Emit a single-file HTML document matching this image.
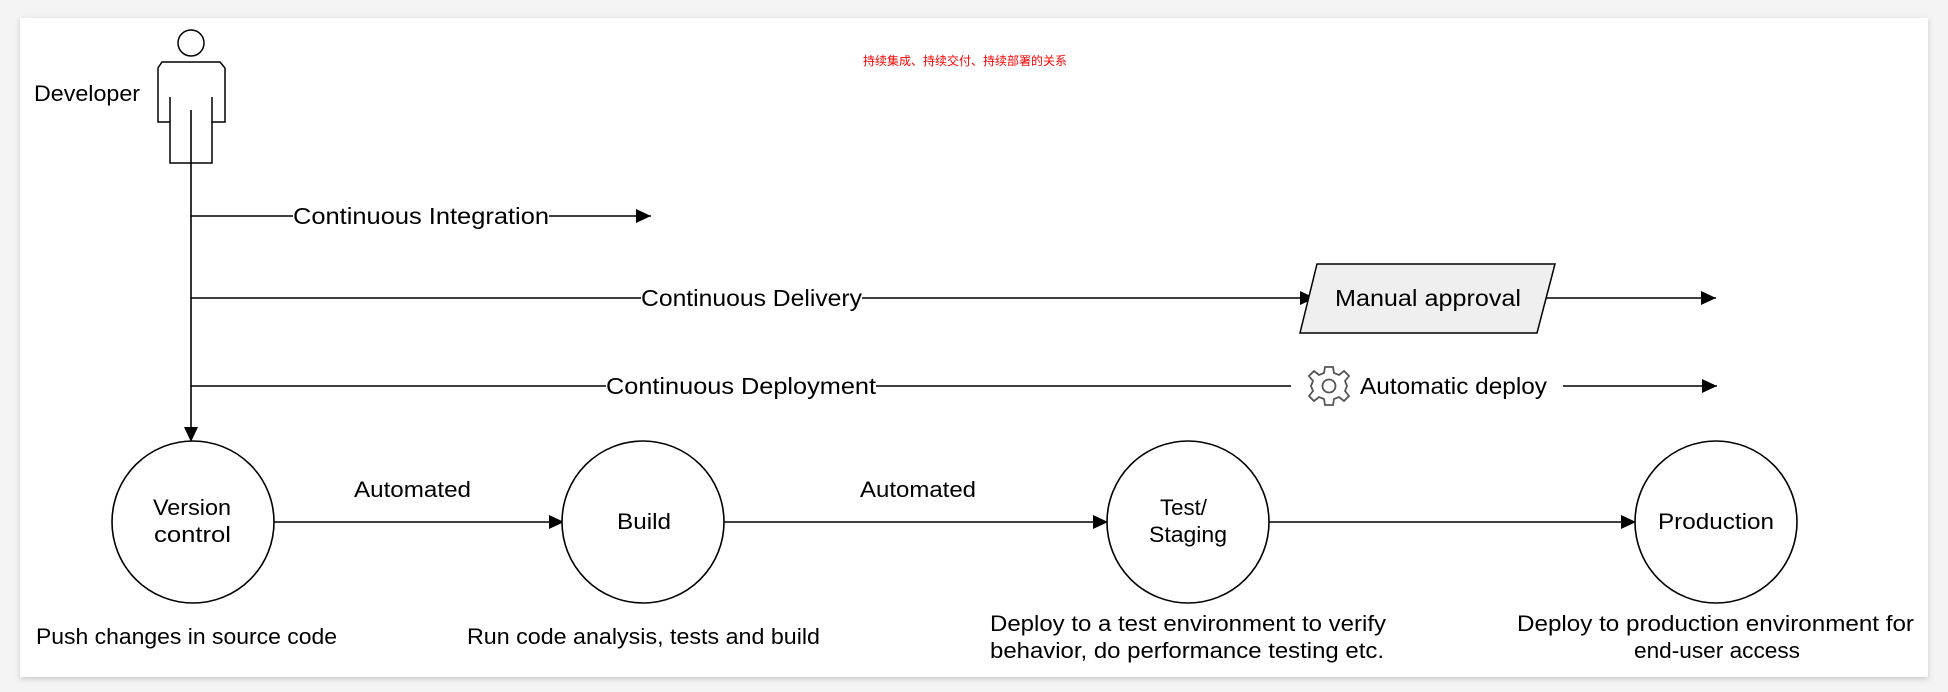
<!DOCTYPE html>
<html><head><meta charset="utf-8"><style>
html,body{margin:0;padding:0;background:#fff;}
svg{display:block;}
text{font-family:"Liberation Sans","Noto Sans CJK SC",sans-serif;fill:#000;}
</style></head><body>
<svg width="1948" height="692" viewBox="0 0 1948 692" xmlns="http://www.w3.org/2000/svg">
<defs>
<marker id="a" markerWidth="16" markerHeight="14" refX="15" refY="7" orient="auto" markerUnits="userSpaceOnUse">
<path d="M0,0 L15,7 L0,14 Z" fill="#000"/></marker>
<filter id="sh" x="-2%" y="-5%" width="104%" height="110%"><feDropShadow dx="0" dy="2" stdDeviation="3" flood-color="#000" flood-opacity="0.18"/></filter>
</defs>
<rect x="0" y="0" width="1948" height="692" fill="#f4f4f4"/>
<rect x="20" y="18" width="1908" height="659" fill="#fff" filter="url(#sh)"/>
<text x="965" y="65" font-size="12" text-anchor="middle" style="fill:#f00">持续集成、持续交付、持续部署的关系</text>
<g fill="none" stroke="#000" stroke-width="1.5">
<circle cx="191" cy="43" r="13"/>
<path d="M162,62 L220,62 L225,68 L225,122 L212,122 L212,163 L170,163 L170,122 L158,122 L158,68 Z"/>
<line x1="170" y1="97" x2="170" y2="122"/><line x1="212" y1="97" x2="212" y2="122"/>
</g>
<text x="34" y="101" font-size="22" textLength="106" lengthAdjust="spacingAndGlyphs">Developer</text>
<g stroke="#000" stroke-width="1.6" fill="none">
<line x1="191" y1="110" x2="191" y2="442" marker-end="url(#a)"/>
<line x1="191" y1="216" x2="293" y2="216"/><line x1="549" y1="216" x2="651" y2="216" marker-end="url(#a)"/>
<line x1="191" y1="298" x2="641" y2="298"/><line x1="862" y1="298" x2="1315" y2="298" marker-end="url(#a)"/>
<line x1="1544" y1="298" x2="1716" y2="298" marker-end="url(#a)"/>
<line x1="191" y1="386" x2="606" y2="386"/><line x1="876" y1="386" x2="1291" y2="386"/>
<line x1="1563" y1="386" x2="1717" y2="386" marker-end="url(#a)"/>
<line x1="274" y1="522" x2="564" y2="522" marker-end="url(#a)"/>
<line x1="724" y1="522" x2="1108" y2="522" marker-end="url(#a)"/>
<line x1="1269" y1="522" x2="1636" y2="522" marker-end="url(#a)"/>
</g>
<g font-size="23">
<text x="293" y="224" textLength="256" lengthAdjust="spacingAndGlyphs">Continuous Integration</text>
<text x="641" y="306" textLength="221" lengthAdjust="spacingAndGlyphs">Continuous Delivery</text>
<text x="606" y="394" textLength="270" lengthAdjust="spacingAndGlyphs">Continuous Deployment</text>
</g>
<polygon points="1317,264 1555,264 1537,333 1300,333" fill="#efefef" stroke="#000" stroke-width="1.5"/>
<text x="1335" y="306" font-size="23" textLength="186" lengthAdjust="spacingAndGlyphs">Manual approval</text>
<g transform="translate(1329,386)" fill="none" stroke="#555" stroke-width="1.8">
<path d="M-4,-19 L4,-19 L5,-13 L10,-11 L15,-15 L20,-10 L16,-5 L18,0 L16,5 L20,10 L15,15 L10,11 L5,13 L4,19 L-4,19 L-5,13 L-10,11 L-15,15 L-20,10 L-16,5 L-18,0 L-16,-5 L-20,-10 L-15,-15 L-10,-11 L-5,-13 Z"/>
<circle r="6.5"/>
</g>
<text x="1360" y="394" font-size="23" textLength="187" lengthAdjust="spacingAndGlyphs">Automatic deploy</text>
<g fill="#fff" stroke="#000" stroke-width="1.6">
<circle cx="193" cy="522" r="81"/><circle cx="643" cy="522" r="81"/>
<circle cx="1188" cy="522" r="81"/><circle cx="1716" cy="522" r="81"/>
</g>
<g font-size="22">
<text x="153" y="515" textLength="78" lengthAdjust="spacingAndGlyphs">Version</text>
<text x="154" y="542" textLength="77" lengthAdjust="spacingAndGlyphs">control</text>
<text x="617" y="529" textLength="54" lengthAdjust="spacingAndGlyphs">Build</text>
<text x="1160" y="515" textLength="47" lengthAdjust="spacingAndGlyphs">Test/</text>
<text x="1149" y="542" textLength="78" lengthAdjust="spacingAndGlyphs">Staging</text>
<text x="1658" y="529" textLength="116" lengthAdjust="spacingAndGlyphs">Production</text>
<text x="354" y="497" textLength="117" lengthAdjust="spacingAndGlyphs">Automated</text>
<text x="860" y="497" textLength="116" lengthAdjust="spacingAndGlyphs">Automated</text>
<text x="36" y="644" textLength="301" lengthAdjust="spacingAndGlyphs">Push changes in source code</text>
<text x="467" y="644" textLength="353" lengthAdjust="spacingAndGlyphs">Run code analysis, tests and build</text>
<text x="990" y="631" textLength="396" lengthAdjust="spacingAndGlyphs">Deploy to a test environment to verify</text>
<text x="990" y="658" textLength="394" lengthAdjust="spacingAndGlyphs">behavior, do performance testing etc.</text>
<text x="1517" y="631" textLength="397" lengthAdjust="spacingAndGlyphs">Deploy to production environment for</text>
<text x="1634" y="658" textLength="166" lengthAdjust="spacingAndGlyphs">end-user access</text>
</g>
</svg>
</body></html>
